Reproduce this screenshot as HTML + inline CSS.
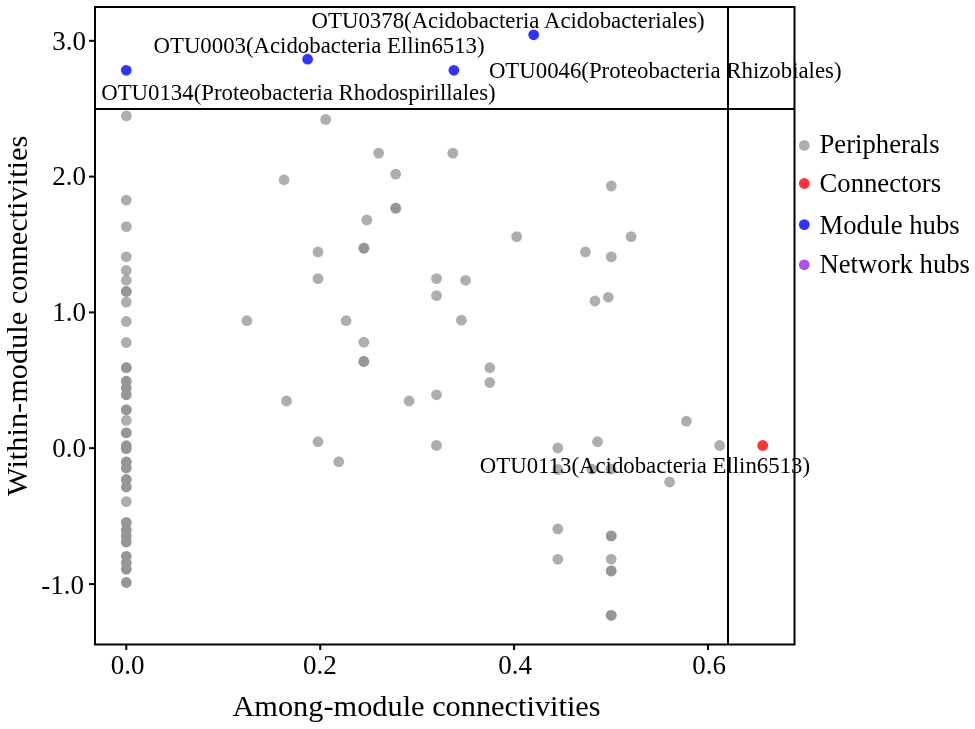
<!DOCTYPE html>
<html><head><meta charset="utf-8"><style>
html,body{margin:0;padding:0;background:#fff;width:975px;height:729px;overflow:hidden}
svg{display:block;will-change:transform}
text{font-family:"Liberation Serif",serif;fill:#000}
</style></head><body>
<svg width="975" height="729" viewBox="0 0 975 729">
<rect width="975" height="729" fill="#fff"/>
<g fill="#8c8c8c" fill-opacity="0.7">
<circle cx="126.3" cy="115.9" r="5.4"/>
<circle cx="126.3" cy="200.1" r="5.4"/>
<circle cx="126.3" cy="226.6" r="5.4"/>
<circle cx="126.3" cy="256.8" r="5.4"/>
<circle cx="126.3" cy="270.5" r="5.4"/>
<circle cx="126.3" cy="280.2" r="5.4"/>
<circle cx="126.3" cy="291.5" r="5.4"/>
<circle cx="126.3" cy="291.5" r="5.4"/>
<circle cx="126.3" cy="302.1" r="5.4"/>
<circle cx="126.3" cy="321.5" r="5.4"/>
<circle cx="126.3" cy="342.5" r="5.4"/>
<circle cx="126.3" cy="367.7" r="5.4"/>
<circle cx="126.3" cy="367.7" r="5.4"/>
<circle cx="126.3" cy="409.8" r="5.4"/>
<circle cx="126.3" cy="409.8" r="5.4"/>
<circle cx="126.3" cy="420.4" r="5.4"/>
<circle cx="126.3" cy="432.8" r="5.4"/>
<circle cx="126.3" cy="432.8" r="5.4"/>
<circle cx="126.3" cy="501.6" r="5.4"/>
<circle cx="325.7" cy="119.4" r="5.4"/>
<circle cx="284.1" cy="179.8" r="5.4"/>
<circle cx="378.7" cy="153.1" r="5.4"/>
<circle cx="452.8" cy="153.1" r="5.4"/>
<circle cx="395.7" cy="174.1" r="5.4"/>
<circle cx="395.7" cy="208.2" r="5.4"/>
<circle cx="395.7" cy="208.2" r="5.4"/>
<circle cx="366.8" cy="220.0" r="5.4"/>
<circle cx="363.9" cy="248.2" r="5.4"/>
<circle cx="363.9" cy="248.2" r="5.4"/>
<circle cx="318" cy="251.9" r="5.4"/>
<circle cx="318" cy="278.6" r="5.4"/>
<circle cx="516.7" cy="236.6" r="5.4"/>
<circle cx="436.5" cy="278.6" r="5.4"/>
<circle cx="465.6" cy="280.3" r="5.4"/>
<circle cx="611.3" cy="186" r="5.4"/>
<circle cx="631.1" cy="236.6" r="5.4"/>
<circle cx="585.4" cy="251.9" r="5.4"/>
<circle cx="611.3" cy="256.9" r="5.4"/>
<circle cx="246.9" cy="320.7" r="5.4"/>
<circle cx="346.1" cy="320.7" r="5.4"/>
<circle cx="363.8" cy="342.2" r="5.4"/>
<circle cx="363.8" cy="361.5" r="5.4"/>
<circle cx="363.8" cy="361.5" r="5.4"/>
<circle cx="286.6" cy="401" r="5.4"/>
<circle cx="318" cy="441.7" r="5.4"/>
<circle cx="338.8" cy="461.7" r="5.4"/>
<circle cx="436.5" cy="295.6" r="5.4"/>
<circle cx="461.4" cy="320.2" r="5.4"/>
<circle cx="489.8" cy="367.7" r="5.4"/>
<circle cx="489.8" cy="382.5" r="5.4"/>
<circle cx="436.5" cy="394.8" r="5.4"/>
<circle cx="409.1" cy="401" r="5.4"/>
<circle cx="436.5" cy="445.4" r="5.4"/>
<circle cx="557.8" cy="448" r="5.4"/>
<circle cx="595" cy="301" r="5.4"/>
<circle cx="608.3" cy="297.3" r="5.4"/>
<circle cx="686.4" cy="421.2" r="5.4"/>
<circle cx="597.5" cy="441.7" r="5.4"/>
<circle cx="719.7" cy="445.5" r="5.4"/>
<circle cx="557.8" cy="469.4" r="5.4"/>
<circle cx="591.8" cy="469.1" r="5.4"/>
<circle cx="611" cy="469.1" r="5.4"/>
<circle cx="669.6" cy="482" r="5.4"/>
<circle cx="557.8" cy="529" r="5.4"/>
<circle cx="611.2" cy="535.9" r="5.4"/>
<circle cx="611.2" cy="535.9" r="5.4"/>
<circle cx="557.8" cy="559.3" r="5.4"/>
<circle cx="611.2" cy="559.1" r="5.4"/>
<circle cx="611.2" cy="571" r="5.4"/>
<circle cx="611.2" cy="571" r="5.4"/>
<circle cx="611.2" cy="615.3" r="5.4"/>
<circle cx="611.2" cy="615.3" r="5.4"/>
</g>
<g fill="#8c8c8c">
<g opacity="0.91"><circle cx="126.3" cy="381.2" r="5.4"/><circle cx="126.3" cy="388" r="5.4"/><circle cx="126.3" cy="394.8" r="5.4"/></g>
<g opacity="0.91"><circle cx="126.3" cy="445.7" r="5.4"/><circle cx="126.3" cy="448.6" r="5.4"/></g>
<g opacity="0.91"><circle cx="126.3" cy="462" r="5.4"/><circle cx="126.3" cy="468" r="5.4"/><circle cx="126.3" cy="479.5" r="5.4"/><circle cx="126.3" cy="487" r="5.4"/></g>
<g opacity="0.91"><circle cx="126.3" cy="522.4" r="5.4"/><circle cx="126.3" cy="530" r="5.4"/><circle cx="126.3" cy="536" r="5.4"/><circle cx="126.3" cy="542" r="5.4"/></g>
<g opacity="0.91"><circle cx="126.3" cy="556.3" r="5.4"/><circle cx="126.3" cy="563" r="5.4"/><circle cx="126.3" cy="569.2" r="5.4"/><circle cx="126.3" cy="582.5" r="5.4"/></g>
</g>
<circle cx="762.7" cy="445.5" r="5.4" fill="#ff3333"/>
<g fill="#3333ff">
<circle cx="126.3" cy="70.3" r="5.4"/>
<circle cx="307.6" cy="59.2" r="5.4"/>
<circle cx="453.9" cy="70.3" r="5.4"/>
<circle cx="533.7" cy="34.8" r="5.4"/>
</g>
<g font-size="22.8px">
<text x="311.6" y="28">OTU0378(Acidobacteria Acidobacteriales)</text>
<text x="153.5" y="52.6">OTU0003(Acidobacteria Ellin6513)</text>
<text x="488.9" y="78.2">OTU0046(Proteobacteria Rhizobiales)</text>
<text x="101.2" y="100.1">OTU0134(Proteobacteria Rhodospirillales)</text>
<text x="479.8" y="472.6">OTU0113(Acidobacteria Ellin6513)</text>
</g>
<g stroke="#000" stroke-width="2" fill="none">
<rect x="95" y="7" width="699.5" height="637.5"/>
<line x1="95" y1="108.9" x2="794.5" y2="108.9"/>
<line x1="728" y1="7" x2="728" y2="644.5"/>
<line x1="89" y1="40.8" x2="95" y2="40.8"/>
<line x1="89" y1="176.6" x2="95" y2="176.6"/>
<line x1="89" y1="312.4" x2="95" y2="312.4"/>
<line x1="89" y1="448.2" x2="95" y2="448.2"/>
<line x1="89" y1="584.1" x2="95" y2="584.1"/>
<line x1="126.3" y1="644.5" x2="126.3" y2="650"/>
<line x1="320.2" y1="644.5" x2="320.2" y2="650"/>
<line x1="514.1" y1="644.5" x2="514.1" y2="650"/>
<line x1="708" y1="644.5" x2="708" y2="650"/>
</g>
<g font-size="27px" text-anchor="end">
<text x="86" y="49.6">3.0</text>
<text x="86" y="185">2.0</text>
<text x="86" y="320.9">1.0</text>
<text x="86" y="457.4">0.0</text>
<text x="84" y="594">-1.0</text>
</g>
<g font-size="27px" text-anchor="middle">
<text x="127.5" y="674">0.0</text>
<text x="319.8" y="674">0.2</text>
<text x="515" y="674">0.4</text>
<text x="709" y="674">0.6</text>
</g>
<g font-size="30.35px">
<text x="232.4" y="716">Among-module connectivities</text>
<text transform="translate(27.4,496) rotate(-90)">Within-module connectivities</text>
</g>
<circle cx="804.3" cy="145.4" r="5.4" fill="#8c8c8c" fill-opacity="0.7"/>
<circle cx="804.3" cy="183.5" r="5.4" fill="#ff3333"/>
<circle cx="804.3" cy="224.6" r="5.4" fill="#3333ff"/>
<circle cx="804.3" cy="264.8" r="5.4" fill="#b34df3"/>
<g font-size="26.7px">
<text x="819.5" y="153">Peripherals</text>
<text x="819.5" y="192.2">Connectors</text>
<text x="819.5" y="234.1">Module hubs</text>
<text x="819.5" y="272.9">Network hubs</text>
</g>
</svg>
</body></html>
